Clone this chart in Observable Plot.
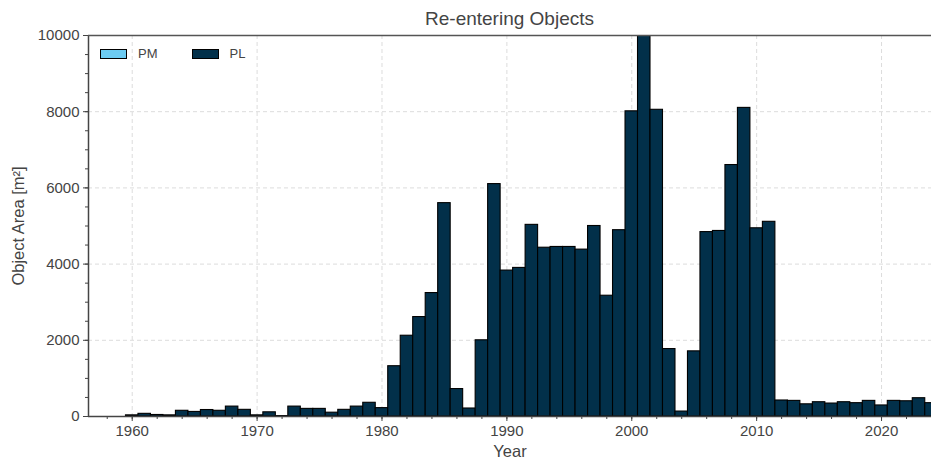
<!DOCTYPE html>
<html>
<head>
<meta charset="utf-8">
<script src="https://cdn.jsdelivr.net/npm/d3@7"></script>
<script src="https://cdn.jsdelivr.net/npm/@observablehq/plot@0.6"></script>
<style>
  html, body { margin: 0; padding: 0; background: #fff; }
  #wrap { position: relative; width: 931px; height: 460px; font-family: "Liberation Sans", Arial, sans-serif; color: #444; }
  #title { position: absolute; left: 88px; width: 843px; top: 8px; text-align: center; font-size: 19px; color: #444; }
  .legend { position: absolute; top: 46px; left: 100px; display: flex; align-items: center; font-size: 13px; color: #444; }
  .sw { width: 25px; height: 8px; border: 1px solid #000; margin-right: 11px; }
  .item { display: flex; align-items: center; margin-right: 34px; }
  g[aria-label="x-axis label"] text, g[aria-label="y-axis label"] text { font-size: 16.5px; }
  g[aria-label="x-axis label"], g[aria-label="y-axis label"] { font-size: 16.5px; }
</style>
</head>
<body>
<div id="wrap">
  <div id="title">Re-entering Objects</div>
  <div id="chart"></div>
  <div class="legend" id="legend"></div>
</div>
<script>
const series = ["PM", "PL"];
const colors = ["#6ccbf2", "#02304a"];
const years = d3.range(1957, 2025);
// PM: no visible bars in the reference
const pmValues = years.map(() => 0);
const plValues = [
  0, 0, 0, 30, 70, 40, 30, 150, 120, 170, 150, 260,   // 1957-1968
  175, 30, 110, 10, 260, 200, 200, 100, 175, 260, 360, // 1969-1979
  220, 1320, 2120, 2610, 3240, 5600, 720, 210, 2000, 6100, // 1980-1989
  3830, 3900, 5030, 4430, 4450, 4450, 4380, 5000, 3170, 4890, // 1990-1999
  8010, 10300, 8050, 1770, 130, 1710, 4840, 4870, 6600, 8100, // 2000-2009
  4940, 5110, 420, 410, 320, 375, 340, 375, 350, 410, // 2010-2019
  290, 410, 400, 480, 350 // 2020-2024
];
const xMajor = [1960, 1970, 1980, 1990, 2000, 2010, 2020];
const xMinor = d3.range(1958, 2025, 2);
const yMajor = [0, 2000, 4000, 6000, 8000, 10000];
const yMinor = d3.range(0, 10001, 500);

const rows = [];
years.forEach((yr, i) => {
  rows.push({year: yr, series: "PM", value: pmValues[i]});
  rows.push({year: yr, series: "PL", value: plValues[i]});
});

const chart = Plot.plot({
  width: 931, height: 460,
  marginLeft: 88, marginRight: 0, marginTop: 35, marginBottom: 44,
  style: {fontFamily: "'Liberation Sans', Arial, sans-serif", fontSize: "15px", color: "#444", background: "transparent"},
  x: {domain: [1956.5, 2024]},
  y: {domain: [0, 10000]},
  color: {domain: series, range: colors},
  marks: [
    Plot.gridX(xMajor, {stroke: "#dcdcdc", strokeOpacity: 1, strokeDasharray: "4,3"}),
    Plot.gridY(yMajor, {stroke: "#dcdcdc", strokeOpacity: 1, strokeDasharray: "4,3"}),
    Plot.rectY(rows, Plot.stackY({
      x1: d => d.year - 0.5, x2: d => d.year + 0.5, y: "value",
      fill: "series", stroke: "#000", strokeWidth: 1.1,
      filter: d => d.value > 0, clip: true, order: series
    })),
    Plot.axisX(xMinor, {tickSize: 3, text: null, stroke: "#444", label: null}),
    Plot.axisX(xMajor, {tickSize: 5, tickPadding: 4, stroke: "#444", fill: "#444", tickFormat: d => String(d),
      label: "Year", labelAnchor: "center", labelArrow: "none", labelOffset: 40}),
    Plot.axisY(yMinor, {tickSize: 3, text: null, stroke: "#444", label: null}),
    Plot.axisY(yMajor, {tickSize: 5, tickPadding: 4, stroke: "#444", fill: "#444", tickFormat: d => String(d),
      label: "Object Area [m²]", labelAnchor: "center", labelArrow: "none", labelOffset: 76}),
    Plot.ruleY([0], {stroke: "#444", strokeWidth: 1.5}),
    Plot.ruleX([1956.5], {stroke: "#444", strokeWidth: 1.5}),
    Plot.ruleY([10000], {stroke: "#555", strokeWidth: 1.5})
  ]
});
document.getElementById("chart").appendChild(chart);

const legend = document.getElementById("legend");
series.forEach((s, i) => {
  const it = document.createElement("div");
  it.className = "item";
  it.innerHTML = `<div class="sw" style="background:${colors[i]}"></div><span>${s}</span>`;
  legend.appendChild(it);
});
</script>
</body>
</html>
